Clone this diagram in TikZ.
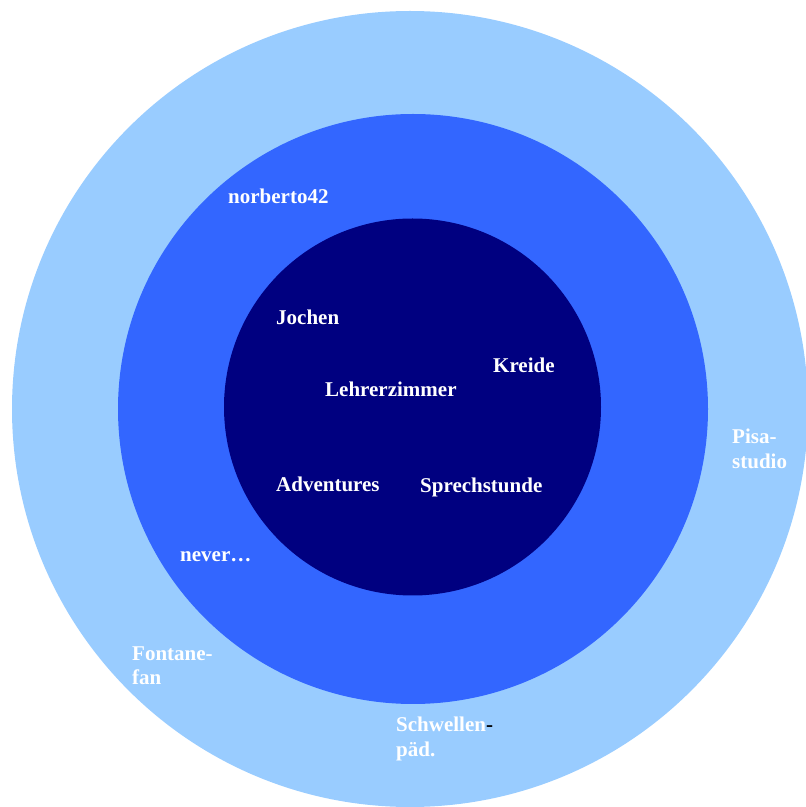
\documentclass[tikz,border=0pt]{standalone}
\usepackage{fontspec}
\setmainfont{Liberation Serif}
\definecolor{outerblue}{HTML}{99CCFF}
\definecolor{midblue}{HTML}{3366FF}
\definecolor{innerblue}{HTML}{000080}
\begin{document}
\begin{tikzpicture}[x=1pt,y=1pt,
  lbl/.style={anchor=base west,inner sep=0pt,text=white,font=\fontsize{21}{24}\selectfont\bfseries}]
\useasboundingbox (0,0) rectangle (806,807);
\clip (0,0) rectangle (806,807);
\fill[outerblue] (410,398) circle[radius=398];
\fill[midblue] (413,398) circle[radius=295];
\fill[innerblue] (412.5,400) circle[radius=188.5];
\node[lbl] (n1) at (228,603) {norberto42};
\node[lbl] (n2) at (276,482) {Jochen};
\node[lbl] (n3) at (493,434) {Kreide};
\node[lbl] (n4) at (325,410) {Lehrerzimmer};
\node[lbl] (n5) at (276,315) {Adventures};
\node[lbl] (n6) at (420,314) {Sprechstunde};
\node[lbl] (n7) at (180,245) {never…};
\node[lbl] (n8a) at (732,363) {Pisa-};
\node[lbl] (n8b) at (732,338) {studio};
\node[lbl] (n9a) at (132,146) {Fontane-};
\node[lbl] (n9b) at (132,122) {fan};
\node[lbl] (n10a) at (396,75) {Schwellen\textcolor{black}{-}};
\node[lbl] (n10b) at (396,50) {päd.};
\end{tikzpicture}
\end{document}
